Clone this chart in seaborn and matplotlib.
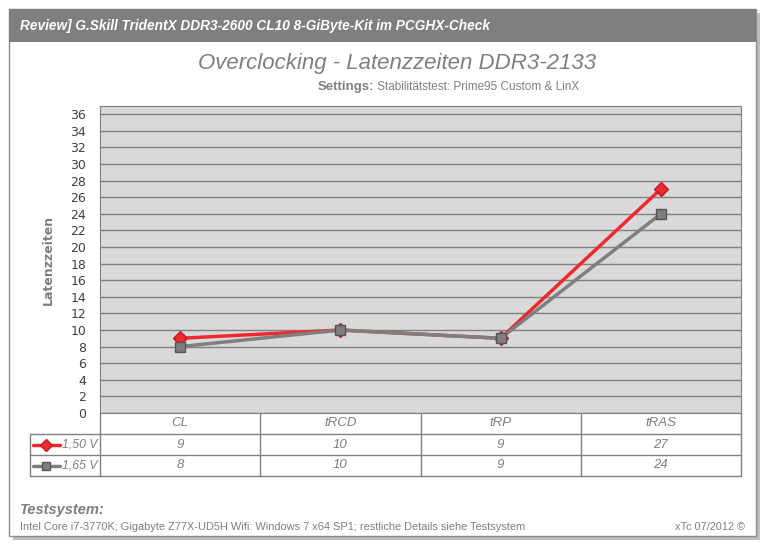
import numpy as np
import pandas as pd
import seaborn as sns
import matplotlib.pyplot as plt
import matplotlib.transforms as mtransforms
from matplotlib.patches import Rectangle

# data
categories = ["CL", "tRCD", "tRP", "tRAS"]
series_names = ["1,50 V", "1,65 V"]
values_150 = [9, 10, 9, 27]
values_165 = [8, 10, 9, 24]
yticks = list(range(0, 37, 2))

df = pd.DataFrame({
    "pos": list(range(len(categories))) * 2,
    "value": values_150 + values_165,
    "series": [series_names[0]] * 4 + [series_names[1]] * 4,
})

sns.set_style("white")
plt.rcParams["font.family"] = ["Liberation Sans", "DejaVu Sans"]

W, H = 767, 547
fig = plt.figure(figsize=(W / 100, H / 100), dpi=100)

def fx(px):
    return px / W

def fy(py):
    return 1 - py / H

# card with shadow + header bar (behind the axes)
fig.patches.append(Rectangle((fx(13), fy(540)), fx(747), 527 / H, transform=fig.transFigure,
                             facecolor="#bdbdbd", edgecolor="none", zorder=-3))
fig.patches.append(Rectangle((fx(9), fy(536)), fx(747), 527 / H, transform=fig.transFigure,
                             facecolor="white", edgecolor="#8c8c8c", lw=1, zorder=-2))
fig.patches.append(Rectangle((fx(9), fy(42)), fx(747), 33 / H, transform=fig.transFigure,
                             facecolor="#7f7f7f", edgecolor="none", zorder=-1))

fig.text(fx(20), fy(26), "Review] G.Skill TridentX DDR3-2600 CL10 8-GiByte-Kit im PCGHX-Check",
         color="white", fontsize=9.8, fontweight="bold", style="italic", va="center", ha="left")
fig.text(fx(397), fy(64), "Overclocking - Latenzzeiten DDR3-2133", color="#7f7f7f",
         fontsize=16, style="italic", va="center", ha="center")
t1 = fig.text(fx(318), fy(87), "Settings:", color="#7f7f7f", fontsize=9.5, fontweight="bold",
              va="center", ha="left")

# plot area
ax_l, ax_r, ax_t, ax_b = 100, 741, 106, 413
ax = fig.add_axes([fx(ax_l), fy(ax_b), (ax_r - ax_l) / W, (ax_b - ax_t) / H])
ax.set_facecolor("#d9d9d9")
ax.annotate(" Stabilitätstest: Prime95 Custom & LinX", xy=(1, 0.5), xycoords=t1,
            color="#7f7f7f", fontsize=8.5, va="center", ha="left", annotation_clip=False)

palette = {series_names[0]: "#ee2a2f", series_names[1]: "#7f7f7f"}
markers = {series_names[0]: "D", series_names[1]: "s"}
sns.lineplot(data=df, x="pos", y="value", hue="series", style="series", palette=palette,
             markers=markers, dashes=False, lw=2.5, markersize=7, ax=ax, legend=False,
             zorder=3)
for ln, ec in zip(ax.lines, ["#c41a1f", "#555555"]):
    ln.set_markeredgecolor(ec)
    ln.set_markeredgewidth(1)

ax.set_xlim(-0.5, len(categories) - 0.5)
ax.set_ylim(0, 37)
ax.set_yticks(yticks)
ax.set_yticklabels([str(v) for v in yticks], family="DejaVu Sans", fontsize=9, color="#404040")
ax.set_xticks([])
ax.yaxis.grid(True, color="#808080", lw=1)
ax.set_axisbelow(True)
ax.tick_params(axis="y", length=0, pad=10)
ax.set_xlabel("")
ax.set_ylabel("Latenzzeiten", family="DejaVu Sans", fontsize=9, fontweight="bold",
              color="#7f7f7f")
ax.yaxis.set_label_coords((55 - ax_l) / (ax_r - ax_l), 0.5)
for s in ["top", "right", "left", "bottom"]:
    ax.spines[s].set_visible(True)
    ax.spines[s].set_color("#808080")

# data table under the plot
h_ax = ax_b - ax_t
row_h = 21 / h_ax
left_ax = (30 - ax_l) / (ax_r - ax_l)
tr = mtransforms.blended_transform_factory(ax.transData, ax.transAxes)
lc = "#808080"
for k in [1, 2, 3]:
    ax.plot([left_ax, 1], [-k * row_h] * 2, transform=ax.transAxes, color=lc, lw=1, clip_on=False)
for xb in np.arange(-0.5, len(categories), 1.0):
    ax.plot([xb, xb], [0, -3 * row_h], transform=tr, color=lc, lw=1, clip_on=False)
ax.plot([left_ax, left_ax], [-row_h, -3 * row_h], transform=ax.transAxes, color=lc, lw=1,
        clip_on=False)

cell_style = dict(color="#7f7f7f", fontsize=9.5, style="italic", va="center", ha="center",
                  transform=tr, clip_on=False)
for i, c in enumerate(categories):
    ax.text(i, -0.5 * row_h, c, **cell_style)
    ax.text(i, -1.5 * row_h, str(values_150[i]), **cell_style)
    ax.text(i, -2.5 * row_h, str(values_165[i]), **cell_style)

# row labels with legend keys
for k, name in enumerate(series_names):
    yk = -(1.5 + k) * row_h
    ax.text((97 - ax_l) / (ax_r - ax_l), yk, name, color="#7f7f7f", fontsize=8.8, style="italic",
            va="center", ha="right", transform=ax.transAxes, clip_on=False)
    x0, x1 = (33 - ax_l) / (ax_r - ax_l), (60 - ax_l) / (ax_r - ax_l)
    ax.plot([x0, x1], [yk, yk], transform=ax.transAxes, color=palette[name], lw=2.5,
            clip_on=False)
    ax.plot([(x0 + x1) / 2], [yk], transform=ax.transAxes, marker=markers[name], ms=6,
            color=palette[name], mec=["#c41a1f", "#555555"][k], clip_on=False)

# footer
fig.text(fx(20), fy(510), "Testsystem:", color="#7f7f7f", fontsize=10.5, fontweight="bold",
         style="italic", va="center", ha="left")
fig.text(fx(20), fy(527),
         "Intel Core i7-3770K; Gigabyte Z77X-UD5H Wifi: Windows 7 x64 SP1; restliche Details siehe Testsystem",
         color="#7f7f7f", fontsize=7.9, va="center", ha="left")
fig.text(fx(745), fy(527), "xTc 07/2012 ©", color="#7f7f7f", fontsize=7.9, va="center", ha="right")

fig.savefig("out.png", dpi=100)
